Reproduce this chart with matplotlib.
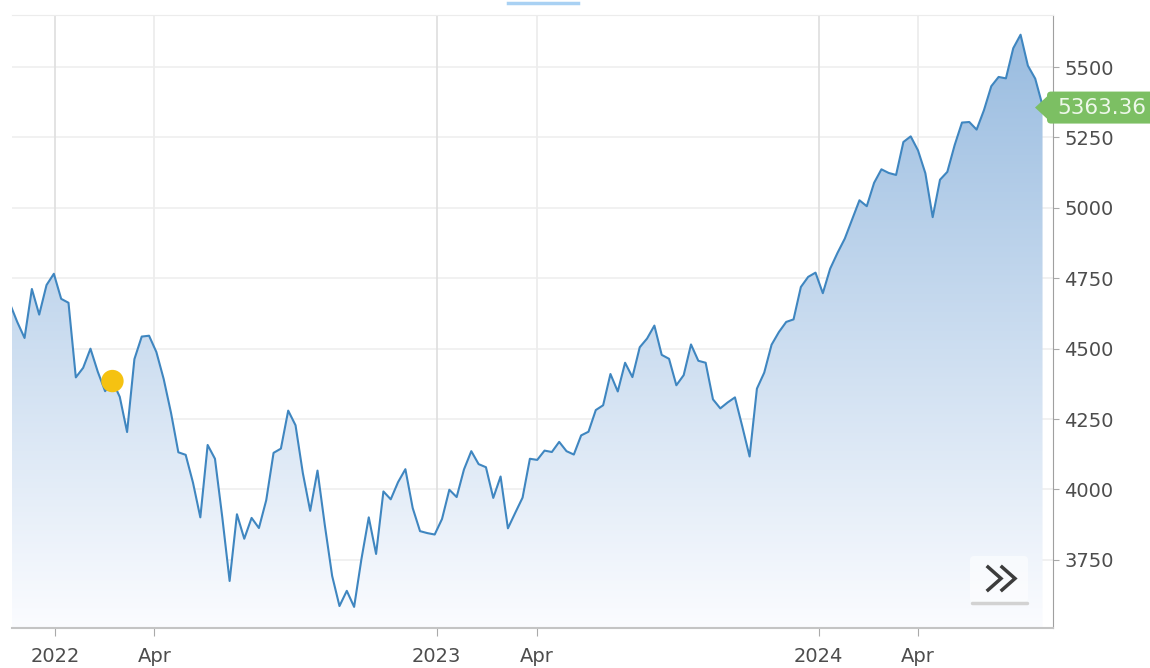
import numpy as np
import pandas as pd
import matplotlib
matplotlib.use('Agg')
import matplotlib.pyplot as plt
import matplotlib.dates as mdates
from matplotlib.patches import FancyBboxPatch, Polygon
from matplotlib.lines import Line2D
from matplotlib.transforms import IdentityTransform

# ---------------- data (weekly closes) ----------------
start_date = '2021-11-19'
values_2021 = [4660, 4595, 4538, 4712, 4621, 4726, 4766]
values_2022 = [4677, 4663, 4398, 4432, 4500, 4418, 4349, 4385, 4329, 4204,
               4463, 4543, 4546, 4488, 4392, 4272, 4132, 4123, 4024, 3901,
               4158, 4109, 3901, 3675, 3912, 3825, 3899, 3863, 3962, 4130,
               4145, 4280, 4228, 4058, 3924, 4067, 3873, 3693, 3586, 3640,
               3583, 3753, 3901, 3771, 3993, 3965, 4026, 4072, 3934, 3852,
               3845, 3840]
values_2023 = [3895, 3999, 3973, 4071, 4136, 4090, 4079, 3970, 4046, 3862,
               3917, 3971, 4109, 4105, 4138, 4133, 4169, 4136, 4124, 4192,
               4205, 4282, 4299, 4410, 4348, 4450, 4399, 4505, 4536, 4582,
               4478, 4464, 4370, 4406, 4515, 4457, 4450, 4320, 4288, 4309,
               4327, 4224, 4117, 4358, 4415, 4514, 4559, 4595, 4604, 4719,
               4755, 4770]
values_2024 = [4697, 4784, 4840, 4891, 4959, 5027, 5006, 5089, 5137, 5124,
               5117, 5234, 5254, 5204, 5123, 4967, 5100, 5128, 5223, 5303,
               5305, 5278, 5347, 5432, 5465, 5460, 5567, 5615, 5505, 5459,
               5363.36]
values = values_2021 + values_2022 + values_2023 + values_2024
dates = pd.date_range(start_date, periods=len(values), freq='W-FRI')

x_tick_dates = ['2022-01-01', '2022-04-06', '2023-01-01', '2023-04-07', '2024-01-01', '2024-04-05']
x_tick_labels = ['2022', 'Apr', '2023', 'Apr', '2024', 'Apr']
x_tick_is_year = [True, False, True, False, True, False]
y_ticks = [3750, 4000, 4250, 4500, 4750, 5000, 5250, 5500]
highlight_date = '2022-02-25'
highlight_value = 4385
last_label = '5363.36'

# ---------------- figure ----------------
W, H = 1150, 668
fig = plt.figure(figsize=(W / 100, H / 100), dpi=100)
fig.patch.set_facecolor('white')
ax = fig.add_axes([12 / W, 40 / H, (1053 - 12) / W, (628 - 15) / H])

xmin, xmax = pd.Timestamp('2021-11-21'), pd.Timestamp('2024-08-12')
ymin, ymax = 3508, 5685
xn = mdates.date2num(dates)

# gradient area
poly = ax.fill_between(xn, values, ymin, color='none', lw=0)
grad = np.linspace(0, 1, 256)
top = np.array([150, 186, 223]) / 255.0
bot = np.array([251, 252, 255]) / 255.0
img = bot[None, :] + (top - bot)[None, :] * grad[:, None]
im = ax.imshow(img[:, None, :], extent=[mdates.date2num(xmin), mdates.date2num(xmax), ymin, ymax],
               origin='lower', aspect='auto', zorder=1, interpolation='bilinear')
im.set_clip_path(poly.get_paths()[0], transform=ax.transData)

# grid
for yt in y_ticks:
    ax.axhline(yt, color='#efefef', lw=1.2, zorder=0.5)
for d, isy in zip(x_tick_dates, x_tick_is_year):
    ax.axvline(pd.Timestamp(d), color='#e0e0e0' if isy else '#ededed', lw=1.3, zorder=0.5)

# line
ax.plot(dates, values, color='#3f86c0', lw=1.5, zorder=3, solid_joinstyle='round')

# highlight dot
ax.scatter([pd.Timestamp(highlight_date)], [highlight_value], s=260, color='#f5c211',
           zorder=4, edgecolors='none')

ax.set_xlim(xmin, xmax)
ax.set_ylim(ymin, ymax)

# axes styling
ax.spines['left'].set_visible(False)
ax.spines['top'].set_color('#ececec')
ax.spines['right'].set_color('#a0a0a0')
ax.spines['bottom'].set_color('#c4c4c4')
ax.spines['bottom'].set_linewidth(1.5)
ax.yaxis.tick_right()
ax.set_yticks(y_ticks)
ax.set_yticklabels([str(v) for v in y_ticks])
ax.set_xticks([pd.Timestamp(d) for d in x_tick_dates])
ax.set_xticklabels(x_tick_labels)
ax.tick_params(axis='y', length=4, color='#aaaaaa', pad=4, labelsize=14, labelcolor='#4d4d4d')
ax.tick_params(axis='x', length=6, color='#aaaaaa', pad=8, labelsize=14, labelcolor='#4d4d4d')

# last value tag
ident = IdentityTransform()
ly = ax.transData.transform((xn[-1], values[-1]))[1] - 2
fig.add_artist(Polygon([(1035, ly), (1049, ly + 13), (1049, ly - 13)], closed=True,
                       fc='#7cbf63', ec='none', transform=ident))
fig.add_artist(FancyBboxPatch((1047, ly - 16), 115, 32, boxstyle='round,pad=0,rounding_size=4',
                              fc='#7cbf63', ec='none', transform=ident))
fig.text(1102 / W, ly / H, last_label, ha='center', va='center', color='#eef8ea', fontsize=15.5)

# ">>" button
fig.add_artist(FancyBboxPatch((970, H - 602), 58, 46, boxstyle='round,pad=0,rounding_size=4',
                              fc='white', ec='none', alpha=0.55, transform=ident))
fig.add_artist(Line2D([972, 1027], [H - 603, H - 603], color='#d2d2d2', lw=2.5,
                      solid_capstyle='round', transform=ident))
for x0 in (988, 1002):
    fig.add_artist(Line2D([x0, x0 + 13, x0], [H - 567, H - 578.5, H - 590], color='#3c3c3c',
                          lw=2.5, solid_joinstyle='miter', transform=ident))

# small blue bar at the top
fig.add_artist(Line2D([508, 578], [H - 3, H - 3], color='#a9d1f3', lw=2.5, transform=ident))

fig.savefig('out.png', dpi=100)
